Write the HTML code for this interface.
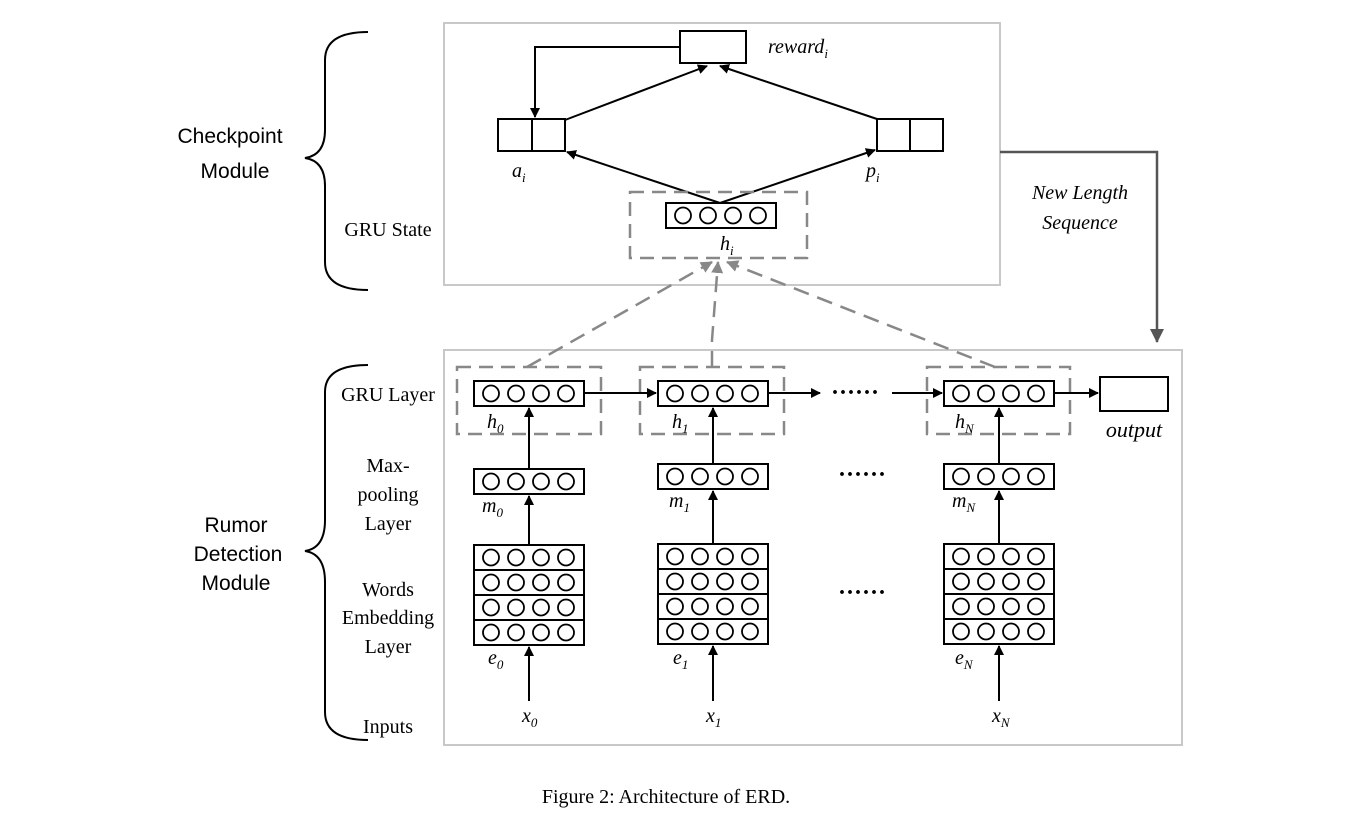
<!DOCTYPE html>
<html><head><meta charset="utf-8"><style>
body{margin:0;background:#fff}
svg text{font-family:"Liberation Serif",serif}
.s{font-family:"Liberation Sans",sans-serif}
</style></head><body>
<svg width="1352" height="817" viewBox="0 0 1352 817" xmlns="http://www.w3.org/2000/svg">
<defs>
<marker id="a" markerWidth="10" markerHeight="10" refX="9" refY="5" orient="auto" markerUnits="userSpaceOnUse"><path d="M0,0 L10,5 L0,10 z" fill="#000"/></marker>
<marker id="g" markerWidth="14" markerHeight="14" refX="13" refY="7" orient="auto" markerUnits="userSpaceOnUse"><path d="M0,0 L14,7 L0,14 z" fill="#555"/></marker>
<marker id="gd" markerWidth="12" markerHeight="12" refX="11" refY="6" orient="auto" markerUnits="userSpaceOnUse"><path d="M0,0 L12,6 L0,12 z" fill="#888"/></marker>
<g id="row"><rect x="0" y="0" width="110" height="25" fill="#fff" stroke="#000" stroke-width="2"/>
<circle cx="17" cy="12.5" r="8" fill="none" stroke="#000" stroke-width="1.8"/>
<circle cx="42" cy="12.5" r="8" fill="none" stroke="#000" stroke-width="1.8"/>
<circle cx="67" cy="12.5" r="8" fill="none" stroke="#000" stroke-width="1.8"/>
<circle cx="92" cy="12.5" r="8" fill="none" stroke="#000" stroke-width="1.8"/></g>
<g id="emb"><use href="#row" y="0"/><use href="#row" y="25"/><use href="#row" y="50"/><use href="#row" y="75"/></g>
</defs>

<rect x="444" y="23" width="556" height="262" fill="none" stroke="#c8c8c8" stroke-width="2"/>
<rect x="444" y="350" width="738" height="395" fill="none" stroke="#c8c8c8" stroke-width="2"/>

<path d="M368,32 Q325,32 325,60 L325,130 Q325,155 305,158 Q325,161 325,186 L325,262 Q325,290 368,290" fill="none" stroke="#000" stroke-width="2"/>
<path d="M368,365 Q325,365 325,392 L325,520 Q325,548 305,551 Q325,554 325,582 L325,712 Q325,740 368,740" fill="none" stroke="#000" stroke-width="2"/>
<text class="s" x="230" y="143" font-size="21" text-anchor="middle">Checkpoint</text>
<text class="s" x="235" y="178" font-size="21" text-anchor="middle">Module</text>
<text class="s" x="236" y="532" font-size="21" text-anchor="middle">Rumor</text>
<text class="s" x="238" y="561" font-size="21" text-anchor="middle">Detection</text>
<text class="s" x="236" y="590" font-size="21" text-anchor="middle">Module</text>

<g font-size="20" text-anchor="middle">
<text x="388" y="236">GRU State</text>
<text x="388" y="401">GRU Layer</text>
<text x="388" y="472">Max-</text>
<text x="388" y="501">pooling</text>
<text x="388" y="530">Layer</text>
<text x="388" y="596">Words</text>
<text x="388" y="624">Embedding</text>
<text x="388" y="653">Layer</text>
<text x="388" y="733">Inputs</text>
</g>

<rect x="680" y="31" width="66" height="32" fill="#fff" stroke="#000" stroke-width="2"/>
<text x="768" y="53" font-size="20" font-style="italic">reward<tspan font-size="13" dy="5">i</tspan></text>
<rect x="498" y="119" width="67" height="32" fill="#fff" stroke="#000" stroke-width="2"/><line x1="532" y1="119" x2="532" y2="151" stroke="#000" stroke-width="2"/>
<rect x="877" y="119" width="66" height="32" fill="#fff" stroke="#000" stroke-width="2"/><line x1="910" y1="119" x2="910" y2="151" stroke="#000" stroke-width="2"/>
<text x="512" y="177" font-size="20" font-style="italic">a<tspan font-size="13" dy="5">i</tspan></text>
<text x="866" y="177" font-size="20" font-style="italic">p<tspan font-size="13" dy="5">i</tspan></text>
<path d="M680,47 L535,47 L535,117" fill="none" stroke="#000" stroke-width="2" marker-end="url(#a)"/>
<line x1="565" y1="120" x2="707" y2="66" stroke="#000" stroke-width="2" marker-end="url(#a)"/>
<line x1="877" y1="119" x2="720" y2="66" stroke="#000" stroke-width="2" marker-end="url(#a)"/>
<line x1="720" y1="203" x2="567" y2="152" stroke="#000" stroke-width="2" marker-end="url(#a)"/>
<line x1="720" y1="203" x2="875" y2="150" stroke="#000" stroke-width="2" marker-end="url(#a)"/>
<rect x="630" y="192" width="177" height="66" fill="none" stroke="#888" stroke-width="2.5" stroke-dasharray="14,8"/>
<use href="#row" x="666" y="203"/>
<text x="720" y="250" font-size="20" font-style="italic">h<tspan font-size="13" dy="5">i</tspan></text>

<path d="M1000,152 L1157,152 L1157,342" fill="none" stroke="#555" stroke-width="2.5" marker-end="url(#g)"/>
<text x="1080" y="199" font-size="20" font-style="italic" text-anchor="middle">New Length</text>
<text x="1080" y="229" font-size="20" font-style="italic" text-anchor="middle">Sequence</text>

<g stroke="#888" stroke-width="2.5" stroke-dasharray="16,9" fill="none">
<line x1="527" y1="367" x2="712" y2="262" marker-end="url(#gd)"/>
<path d="M712,367 L712,340 L718,262" marker-end="url(#gd)"/>
<line x1="995" y1="367" x2="727" y2="262" marker-end="url(#gd)"/>
</g>

<g stroke="#888" stroke-width="2.5" stroke-dasharray="14,8" fill="none">
<rect x="457" y="367" width="144" height="67"/>
<rect x="640" y="367" width="144" height="67"/>
<rect x="927" y="367" width="143" height="67"/>
</g>
<use href="#row" x="474" y="381"/>
<use href="#row" x="658" y="381"/>
<use href="#row" x="944" y="381"/>
<use href="#row" x="474" y="469"/>
<use href="#row" x="658" y="464"/>
<use href="#row" x="944" y="464"/>
<use href="#emb" x="474" y="545"/>
<use href="#emb" x="658" y="544"/>
<use href="#emb" x="944" y="544"/>

<g stroke="#000" stroke-width="2" marker-end="url(#a)">
<line x1="529" y1="545" x2="529" y2="496"/><line x1="529" y1="469" x2="529" y2="408"/><line x1="529" y1="701" x2="529" y2="647"/>
<line x1="713" y1="544" x2="713" y2="491"/><line x1="713" y1="464" x2="713" y2="408"/><line x1="713" y1="701" x2="713" y2="646"/>
<line x1="999" y1="544" x2="999" y2="491"/><line x1="999" y1="464" x2="999" y2="408"/><line x1="999" y1="701" x2="999" y2="646"/>
<line x1="584" y1="393" x2="656" y2="393"/>
<line x1="768" y1="393" x2="820" y2="393"/>
<line x1="892" y1="393" x2="942" y2="393"/>
<line x1="1054" y1="393" x2="1098" y2="393"/>
</g>
<g font-size="24" font-weight="bold" text-anchor="middle"><text x="855" y="400">······</text><text x="862" y="482">······</text><text x="862" y="600">······</text></g>
<rect x="1100" y="377" width="68" height="34" fill="#fff" stroke="#000" stroke-width="2"/>
<text x="1134" y="437" font-size="22" font-style="italic" text-anchor="middle">output</text>

<g font-size="20" font-style="italic">
<text x="487" y="428">h<tspan font-size="13" dy="5">0</tspan></text>
<text x="672" y="428">h<tspan font-size="13" dy="5">1</tspan></text>
<text x="955" y="428">h<tspan font-size="13" dy="5">N</tspan></text>
<text x="482" y="512">m<tspan font-size="13" dy="5">0</tspan></text>
<text x="669" y="507">m<tspan font-size="13" dy="5">1</tspan></text>
<text x="952" y="507">m<tspan font-size="13" dy="5">N</tspan></text>
<text x="488" y="664">e<tspan font-size="13" dy="5">0</tspan></text>
<text x="673" y="664">e<tspan font-size="13" dy="5">1</tspan></text>
<text x="955" y="664">e<tspan font-size="13" dy="5">N</tspan></text>
<text x="522" y="722">x<tspan font-size="13" dy="5">0</tspan></text>
<text x="706" y="722">x<tspan font-size="13" dy="5">1</tspan></text>
<text x="992" y="722">x<tspan font-size="13" dy="5">N</tspan></text>
</g>

<text x="666" y="803" font-size="20" text-anchor="middle">Figure 2:  Architecture of ERD.</text>
</svg>
</body></html>
